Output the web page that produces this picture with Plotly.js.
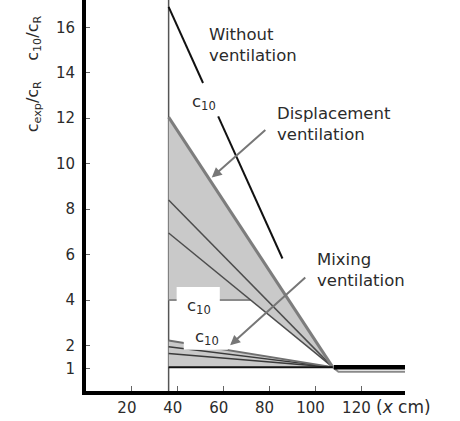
<!DOCTYPE html>
<html>
<head>
<meta charset="utf-8">
<script src="https://cdn.plot.ly/plotly-3.0.1.min.js"></script>
<style>
  html, body { margin: 0; padding: 0; background: #fff; }
  #chart { width: 460px; height: 421px; }
</style>
</head>
<body>
<div id="chart"></div>
<script>
// Distance from the wall (cm) and normalised concentrations
const wallX = 36;                 // position of the source wall
const lineX = [36, 107.5];        // all profiles run from the wall to the meeting point

// Without ventilation: c10 profile (gap left for its label)
const withoutC10X = [36, 51, null, 57.6, 85.6];
const withoutC10Y = [16.9, 13.55, null, 12.08, 5.83];

// Displacement ventilation
const dispCexpTop = [12.05, 1.05];
const dispCexpMid = [8.4, 1.05];
const dispCexpLow = [6.95, 1.05];
const dispC10Level = 4;
const dispTailX = [107.5, 110, 139];
const dispTailY = [1.05, 0.85, 0.85];

// Mixing ventilation
const mixC10 = [2.22, 1.05];
const mixCexpMid = [1.95, 1.05];
const mixCexpLow = [1.65, 1.05];
const baseLevel = 1.05;
const roomX = [108, 139];

// Axis ticks
const xTicks = [20, 40, 60, 80, 100, 120];
const yTicks = [1, 2, 4, 6, 8, 10, 12, 14, 16];

const FONT = 'DejaVu Sans, Verdana, sans-serif';
const FILL = '#c9c9c9';

// x where the lower displacement profile drops to the c10 level
const x0 = lineX[0], x1 = lineX[1];
const dispLowCross = x0 + (dispCexpLow[0] - dispC10Level) / (dispCexpLow[0] - dispCexpLow[1]) * (x1 - x0);

function seg(x, y, color, width) {
  return { type: 'scatter', mode: 'lines', x: x, y: y, hoverinfo: 'skip',
           line: { color: color, width: width }, showlegend: false };
}

const traces = [
  // displacement band
  { type: 'scatter', mode: 'lines', hoverinfo: 'skip', showlegend: false,
    x: [x0, x1, dispLowCross, x0, x0],
    y: [dispCexpTop[0], dispCexpTop[1], dispC10Level, dispC10Level, dispCexpTop[0]],
    fill: 'toself', fillcolor: FILL, line: { width: 0 } },
  // mixing band
  { type: 'scatter', mode: 'lines', hoverinfo: 'skip', showlegend: false,
    x: [x0, x1, x0, x0],
    y: [mixC10[0], mixC10[1], baseLevel, mixC10[0]],
    fill: 'toself', fillcolor: FILL, line: { width: 0 } },

  seg([x0, dispLowCross], [dispC10Level, dispC10Level], '#8a8a8a', 2),
  seg(lineX, dispCexpMid, '#4d4d4d', 1.5),
  seg(lineX, dispCexpLow, '#4d4d4d', 1.5),
  seg(lineX, dispCexpTop, '#7d7d7d', 3),
  seg(dispTailX, dispTailY, '#8a8a8a', 2),

  seg(lineX, mixCexpLow, '#3a3a3a', 1.5),
  seg(lineX, mixCexpMid, '#3a3a3a', 1.5),
  seg(lineX, mixC10, '#6f6f6f', 2),
  seg([x0, x1], [baseLevel, baseLevel], '#111', 2),
  seg(roomX, [baseLevel, baseLevel], '#000', 4.5),

  seg(withoutC10X, withoutC10Y, '#111', 2)
];

const c10 = 'c<sub>10</sub>';
const txt = { family: FONT, size: 16.5, color: '#2b2b2b' };

const layout = {
  width: 460, height: 421,
  margin: { l: 86, r: 55, t: 0, b: 30 },
  paper_bgcolor: '#fff', plot_bgcolor: '#fff',
  showlegend: false,
  xaxis: {
    range: [0, 139], showgrid: false, zeroline: false,
    showline: true, linecolor: '#000', linewidth: 4,
    tickvals: xTicks, ticktext: xTicks.map(String),
    ticks: 'inside', ticklen: 5, tickcolor: '#666', tickwidth: 1,
    ticklabelshift: -5,
    tickfont: { family: FONT, size: 15, color: '#2b2b2b' }
  },
  yaxis: {
    range: [0, 17.2], showgrid: false, zeroline: false,
    showline: true, linecolor: '#000', linewidth: 4,
    tickvals: yTicks, ticktext: yTicks.map(String),
    ticks: 'inside', ticklen: 4, tickcolor: '#666', tickwidth: 1,
    ticklabelstandoff: 4,
    tickfont: { family: FONT, size: 15, color: '#2b2b2b' }
  },
  shapes: [
    { type: 'line', xref: 'x', yref: 'paper', x0: wallX, x1: wallX, y0: 0, y1: 1,
      line: { color: '#555', width: 1.5 }, layer: 'below' },
    // label backgrounds
    { type: 'rect', xref: 'x', yref: 'y', x0: 39.5, x1: 58.3, y0: 3.93, y1: 4.58,
      fillcolor: '#fff', line: { width: 0 }, layer: 'above' },
    { type: 'rect', xref: 'x', yref: 'y', x0: 42.6, x1: 61.8, y0: 1.82, y1: 2.4,
      fillcolor: '#fff', line: { width: 0 }, layer: 'above' }
  ],
  annotations: [
    { xref: 'paper', yref: 'paper', x: -0.166, y: 0.81, xanchor: 'center', yanchor: 'middle',
      textangle: -90,
      text: 'c<sub>exp</sub>/c<sub>R</sub>&nbsp;&nbsp;&nbsp;&nbsp;c<sub>10</sub>/c<sub>R</sub>',
      showarrow: false, font: { family: FONT, size: 16, color: '#2b2b2b' } },
    { xref: 'x', yref: 'y', x: 52.8, y: 16.2, xanchor: 'left', yanchor: 'top', align: 'left',
      text: 'Without<br>ventilation', showarrow: false, font: txt },
    { xref: 'x', yref: 'y', x: 51.5, y: 12.7, text: c10, showarrow: false, font: txt },
    { xref: 'x', yref: 'y', x: 82.3, y: 12.7, xanchor: 'left', yanchor: 'top', align: 'left',
      text: 'Displacement<br>ventilation', showarrow: false, font: txt },
    { xref: 'x', yref: 'y', x: 49.2, y: 3.7, text: c10, showarrow: false, font: txt },
    { xref: 'x', yref: 'y', x: 99.8, y: 6.3, xanchor: 'left', yanchor: 'top', align: 'left',
      text: 'Mixing<br>ventilation', showarrow: false, font: txt },
    { xref: 'x', yref: 'y', x: 52.6, y: 2.35, text: c10, showarrow: false, font: txt },
    // arrows
    { xref: 'x', yref: 'y', axref: 'x', ayref: 'y', x: 54.8, y: 9.39, ax: 78.8, ay: 11.54,
      text: '', showarrow: true, arrowhead: 2, arrowsize: 1, arrowwidth: 2, arrowcolor: '#777', standoff: 0 },
    { xref: 'x', yref: 'y', axref: 'x', ayref: 'y', x: 62.8, y: 2.01, ax: 96.2, ay: 5.05,
      text: '', showarrow: true, arrowhead: 2, arrowsize: 1, arrowwidth: 2, arrowcolor: '#777', standoff: 0 },
    // axis unit
    { xref: 'x', yref: 'paper', x: 125.3, y: -0.04, xanchor: 'left', yanchor: 'middle',
      text: '(<i>x</i> cm)', showarrow: false, font: { family: FONT, size: 17, color: '#2b2b2b' } }
  ]
};

Plotly.newPlot('chart', traces, layout, { staticPlot: true, displayModeBar: false });
</script>
</body>
</html>
